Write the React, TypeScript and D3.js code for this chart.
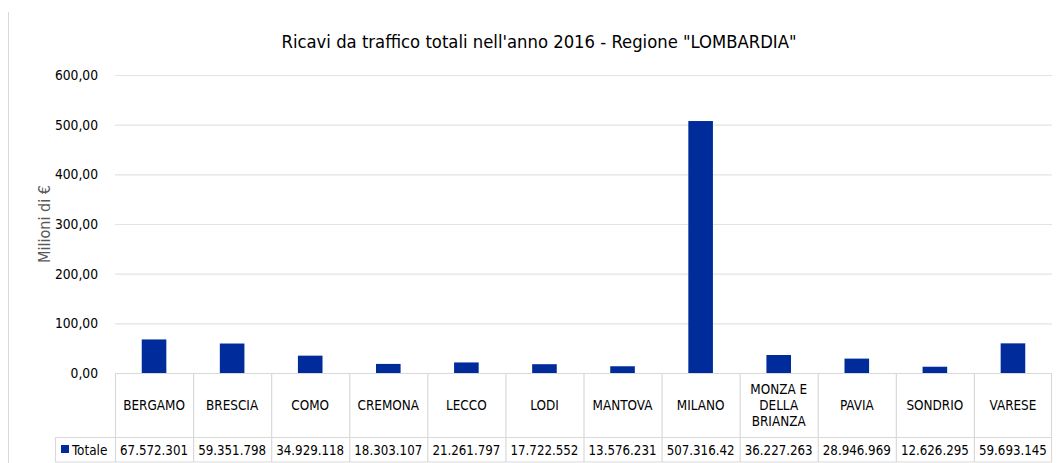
import React from "react";
import * as d3 from "d3";

const categories = ["BERGAMO", "BRESCIA", "COMO", "CREMONA", "LECCO", "LODI", "MANTOVA", "MILANO", "MONZA E DELLA BRIANZA", "PAVIA", "SONDRIO", "VARESE"];
const categoryLines = [["BERGAMO"], ["BRESCIA"], ["COMO"], ["CREMONA"], ["LECCO"], ["LODI"], ["MANTOVA"], ["MILANO"], ["MONZA E", "DELLA", "BRIANZA"], ["PAVIA"], ["SONDRIO"], ["VARESE"]];
const values = [67.572301, 59.351798, 34.929118, 18.303107, 21.261797, 17.722552, 13.576231, 507.31642, 36.227263, 28.946969, 12.626295, 59.693145];
const valueLabels = ["67.572.301", "59.351.798", "34.929.118", "18.303.107", "21.261.797", "17.722.552", "13.576.231", "507.316.42", "36.227.263", "28.946.969", "12.626.295", "59.693.145"];
const yTicks = [0, 100, 200, 300, 400, 500, 600];
const seriesName = "Totale";
const title = "Ricavi da traffico totali nell'anno 2016 - Regione \"LOMBARDIA\"";
const yTitle = "Milioni di €";

const W = 1059, H = 463;
const left = 115, right = 1052, top = 75, bottom = 373;
const rowCatBottom = 437, rowValBottom = 462;
const legendLeft = 55;
const font = "'Liberation Sans Narrow', 'Arial Narrow', 'DejaVu Sans Condensed', sans-serif";
const barColor = "#002b9b";

export default function App() {
  const x = d3.scaleBand<string>().domain(categories).range([left, right]).paddingInner(0).paddingOuter(0);
  const y = d3.scaleLinear().domain([0, 600]).range([bottom, top]);
  const bw = x.bandwidth();
  const barW = bw * 0.315;
  const fmt = (v: number) => d3.format(".2f")(v).replace(".", ",");
  return (
    <svg width={W} height={H} style={{ position: "absolute", left: 0, top: 0, background: "#fff" }} fontFamily={font}>
      <line x1={8.5} x2={8.5} y1={12} y2={H} stroke="#d9d9d9" />
      <text x={539} y={48} textAnchor="middle" fontSize={18.3} fill="#000">{title}</text>
      {yTicks.map(t => (
        <g key={t}>
          {t > 0 && <line x1={left} x2={right} y1={y(t) + 0.5} y2={y(t) + 0.5} stroke="#e3e3e3" strokeWidth={1.2} />}
          <text x={98} y={y(t) + 5} textAnchor="end" fontSize={13.7} fill="#000">{fmt(t)}</text>
        </g>
      ))}
      <text transform={`translate(50,${(top + bottom) / 2}) rotate(-90)`} textAnchor="middle" fontSize={16} fill="#595959">{yTitle}</text>
      {categories.map((c, i) => (
        <rect key={c} x={x(c)! + bw / 2 - barW / 2} y={y(values[i])} width={barW} height={y(0) - y(values[i])} fill={barColor} />
      ))}
      {/* table */}
      <g stroke="#d9d9d9" strokeWidth={1.2} fill="none">
        <line x1={left} x2={right} y1={bottom + 0.5} y2={bottom + 0.5} />
        <line x1={legendLeft} x2={right} y1={rowCatBottom + 0.5} y2={rowCatBottom + 0.5} />
        <line x1={legendLeft} x2={right} y1={rowValBottom} y2={rowValBottom} />
        <line x1={legendLeft + 0.5} x2={legendLeft + 0.5} y1={rowCatBottom} y2={rowValBottom} />
        {categories.map(c => (
          <line key={c} x1={x(c)! + 0.5} x2={x(c)! + 0.5} y1={bottom} y2={rowValBottom} />
        ))}
        <line x1={right - 0.5} x2={right - 0.5} y1={bottom} y2={rowValBottom} />
      </g>
      {categories.map((c, i) => {
        const lines = categoryLines[i];
        const lh = 16;
        const cy = (bottom + rowCatBottom) / 2;
        const y0 = cy - ((lines.length - 1) * lh) / 2 + 5;
        return (
          <text key={c} textAnchor="middle" fontSize={13.4} fill="#000">
            {lines.map((l, j) => (
              <tspan key={j} x={x(c)! + bw / 2} y={y0 + j * lh}>{l}</tspan>
            ))}
          </text>
        );
      })}
      {categories.map((c, i) => (
        <text key={c} x={x(c)! + bw / 2} y={(rowCatBottom + rowValBottom) / 2 + 5} textAnchor="middle" fontSize={13.2} fill="#000">{valueLabels[i]}</text>
      ))}
      <rect x={61} y={445} width={8} height={8} fill={barColor} />
      <text x={72} y={(rowCatBottom + rowValBottom) / 2 + 5} fontSize={13.4} fill="#000">{seriesName}</text>
    </svg>
  );
}
